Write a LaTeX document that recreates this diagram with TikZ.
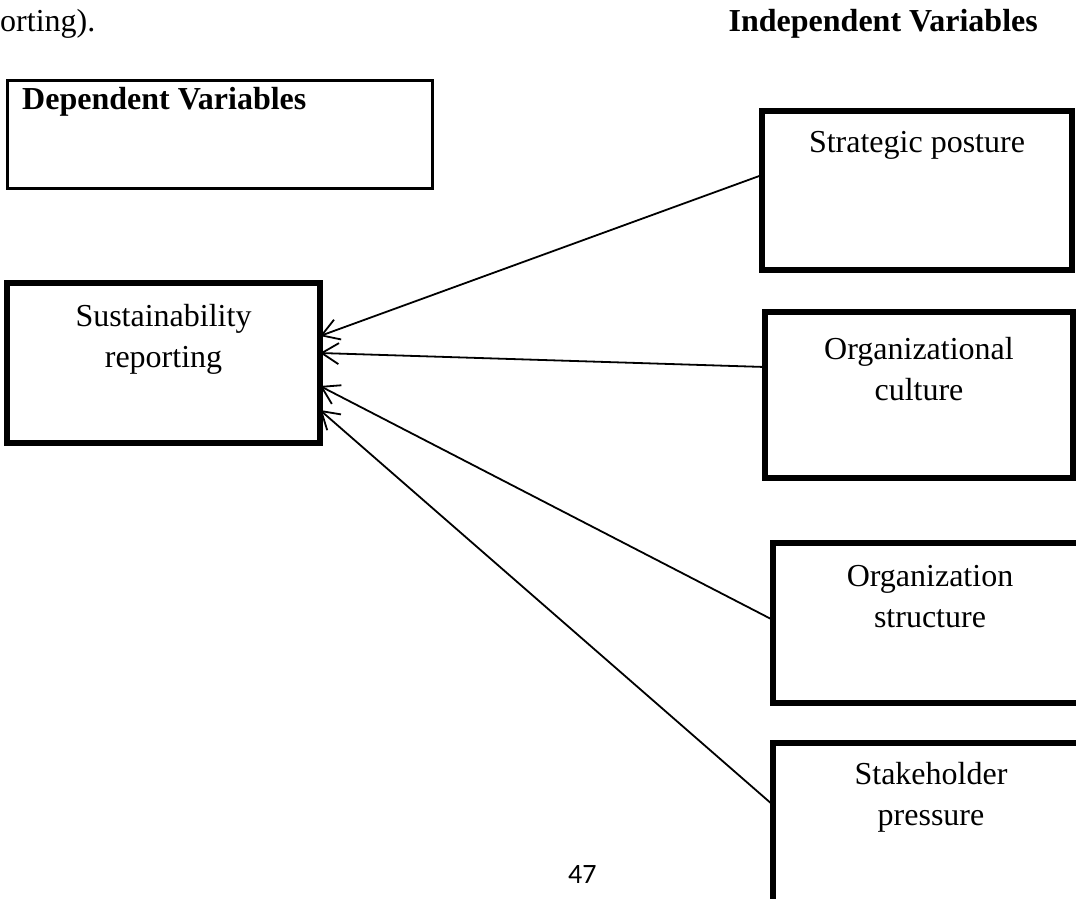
\documentclass[tikz,border=0pt]{standalone}
\usepackage{fontspec}
\setmainfont{Liberation Serif}
\newfontfamily\pagefont{Carlito}
\usetikzlibrary{arrows.meta}
\begin{document}
\begin{tikzpicture}[x=1pt,y=-1pt,
  bx/.style={draw=black, line width=5.5pt, rectangle, inner sep=0pt, outer sep=0pt},
  thinbx/.style={draw=black, line width=3pt, rectangle, inner sep=0pt, outer sep=0pt},
  txt/.style={inner sep=0pt, align=center, font=\fontsize{32}{41}\selectfont},
  btxt/.style={inner sep=0pt, font=\fontsize{32}{41}\selectfont\bfseries},
  conn/.style={line width=1.8pt, {Straight Barb[length=17pt,width=21pt]}-}
]
\useasboundingbox (0,0) rectangle (1076,899);

% headers
\node[txt, anchor=base west] (prev) at (0,32) {orting).};
\node[btxt, anchor=base east] (indep) at (1038,32) {Independent Variables};

% dependent variables box
\node[thinbx, minimum width=425pt, minimum height=108pt] (dv) at (219.5,134) {};
\node[btxt, anchor=base west] (dvt) at (22,110) {Dependent Variables};

% boxes (multi-line texts are anchored at the baseline of their last line)
\node[bx, minimum width=313pt, minimum height=160pt] (sr) at (163.5,363) {};
\node[txt, anchor=base] (srt) at (163.5,367) {Sustainability\\reporting};

\node[bx, minimum width=310pt, minimum height=159pt] (sp) at (917,190.5) {};
\node[txt, anchor=base] (spt) at (917,152) {Strategic posture};

\node[bx, minimum width=308pt, minimum height=166pt] (oc) at (919,395) {};
\node[txt, anchor=base] (oct) at (919,400) {Organizational\\culture};

\node[bx, minimum width=314pt, minimum height=160pt] (os) at (930,623) {};
\node[txt, anchor=base] (ost) at (930,627) {Organization\\structure};

\node[bx, minimum width=316pt, minimum height=160pt] (sh) at (931,823) {};
\node[txt, anchor=base] (sht) at (931,825) {Stakeholder\\pressure};

% page number
\node[inner sep=0pt, anchor=base west, font=\pagefont\fontsize{28}{34}\selectfont] (pg) at (568,883) {47};

% connectors
\draw[conn] ([yshift=27pt]sr.east) -- ([yshift=15.5pt]sp.west);
\draw[conn] ([yshift=10pt]sr.east) -- ([yshift=28pt]oc.west);
\draw[conn] ([yshift=-23pt]sr.east) -- ([yshift=3pt]os.west);
\draw[conn] ([yshift=-47pt]sr.east) -- ([yshift=18pt]sh.west);
\end{tikzpicture}
\end{document}
